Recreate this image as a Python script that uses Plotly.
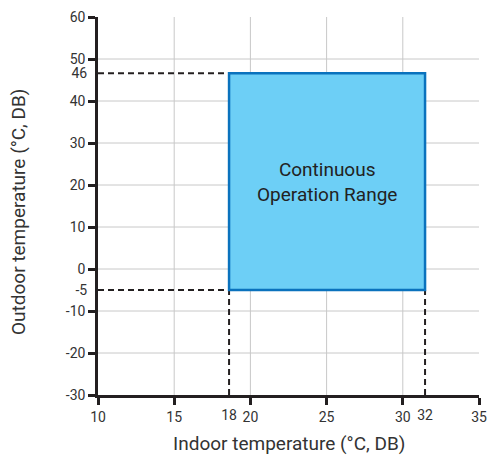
import plotly.graph_objects as go

# ---- data ----
x_ticks = [10, 15, 20, 25, 30, 35]
x_tick_text = ["10", "15", "20", "25", "30", "35"]
y_ticks = [-30, -20, -10, 0, 10, 20, 30, 40, 50, 60]
y_tick_text = ["-30", "-20", "-10", "0", "10", "20", "30", "40", "50", "60"]
x_grid = [15, 20, 25, 30]
y_grid = [-20, -10, 0, 10, 20, 30, 40, 50]
# operating range bounds as drawn in the reference
indoor_range = [18.6, 31.46]
outdoor_range = [-5, 46.6]
indoor_labels = ["18", "32"]
outdoor_labels = ["-5", "46"]
range_label = "Continuous<br>Operation Range"
x_title = "Indoor temperature (°C, DB)"
y_title = "Outdoor temperature (°C, DB)"

X0, X1 = 10, 35
Y0, Y1 = -30, 60
FONT = "Roboto"
TXT = "#333333"
AX = "#231f20"

fig = go.Figure()

shapes = []
for gx in x_grid:
    shapes.append(dict(type="line", xref="x", yref="y", x0=gx, x1=gx, y0=Y0, y1=Y1,
                       line=dict(color="#c8c8c8", width=1), layer="below"))
for gy in y_grid:
    shapes.append(dict(type="line", xref="x", yref="y", x0=X0, x1=X1, y0=gy, y1=gy,
                       line=dict(color="#c8c8c8", width=1), layer="below"))
dash = dict(color=AX, width=2, dash="6px,4px")
shapes.append(dict(type="line", xref="x", yref="y", x0=X0, x1=indoor_range[0],
                   y0=outdoor_range[1], y1=outdoor_range[1], line=dash, layer="below"))
shapes.append(dict(type="line", xref="x", yref="y", x0=X0, x1=indoor_range[0],
                   y0=outdoor_range[0], y1=outdoor_range[0], line=dash, layer="below"))
shapes.append(dict(type="line", xref="x", yref="y", x0=indoor_range[0], x1=indoor_range[0],
                   y0=Y0, y1=outdoor_range[0], line=dash, layer="below"))
shapes.append(dict(type="line", xref="x", yref="y", x0=indoor_range[1], x1=indoor_range[1],
                   y0=Y0, y1=outdoor_range[0], line=dash, layer="below"))
shapes.append(dict(type="rect", xref="x", yref="y",
                   x0=indoor_range[0], x1=indoor_range[1],
                   y0=outdoor_range[0], y1=outdoor_range[1],
                   fillcolor="#6dcff6", line=dict(color="#0a72bd", width=2.5), layer="below"))

annotations = [
    dict(x=(indoor_range[0] + indoor_range[1]) / 2,
         y=(outdoor_range[0] + outdoor_range[1]) / 2,
         xref="x", yref="y", text=range_label, showarrow=False,
         font=dict(family=FONT, size=19, color="#222222")),
    dict(x=0.5, y=0, xref="paper", yref="paper", yshift=-48, text=x_title,
         showarrow=False, yanchor="middle",
         font=dict(family=FONT, size=19, color=TXT)),
    dict(x=0, y=0.5, xref="paper", yref="paper", xshift=-80, yshift=-6, text=y_title,
         showarrow=False, textangle=-90, xanchor="center",
         font=dict(family=FONT, size=19, color=TXT)),
]

fig.add_trace(go.Scatter(x=[X0], y=[Y0], mode="markers", marker=dict(opacity=0),
                         showlegend=False, hoverinfo="skip"))
fig.add_trace(go.Scatter(x=[X0], y=[Y0], xaxis="x2", yaxis="y2", mode="markers",
                         marker=dict(opacity=0), showlegend=False, hoverinfo="skip"))

common = dict(showgrid=False, zeroline=False, automargin=False,
              ticklabeloverflow="allow",
              tickfont=dict(family=FONT, size=14, color=TXT))

fig.update_layout(
    width=487, height=459,
    margin=dict(l=98, r=8, t=17, b=64),
    paper_bgcolor="white", plot_bgcolor="white",
    shapes=shapes, annotations=annotations,
    font=dict(family=FONT, color=TXT),
    xaxis=dict(range=[X0, X1], tickvals=x_ticks, ticktext=x_tick_text,
               showline=True, linecolor=AX, linewidth=2.5,
               ticks="outside", ticklen=7, tickwidth=2.5, tickcolor=AX, **common),
    yaxis=dict(range=[Y0, Y1], tickvals=y_ticks, ticktext=y_tick_text,
               showline=True, linecolor=AX, linewidth=2.5,
               ticks="outside", ticklen=7, tickwidth=2.5, tickcolor=AX, **common),
    xaxis2=dict(range=[X0, X1], overlaying="x", anchor="y2", side="bottom",
                tickvals=indoor_range, ticktext=indoor_labels, ticks="outside",
                ticklen=7, tickcolor="rgba(0,0,0,0)", tickwidth=2.5,
                showline=False, **common),
    yaxis2=dict(range=[Y0, Y1], overlaying="y", anchor="x2", side="left",
                tickvals=outdoor_range, ticktext=outdoor_labels, ticks="outside",
                ticklen=7, tickcolor="rgba(0,0,0,0)", tickwidth=2.5,
                showline=False, **common),
)

fig.write_html("out.html", config={"displayModeBar": False},
               post_script="document.body.style.margin='0';"
                           "document.body.style.overflow='hidden';")
